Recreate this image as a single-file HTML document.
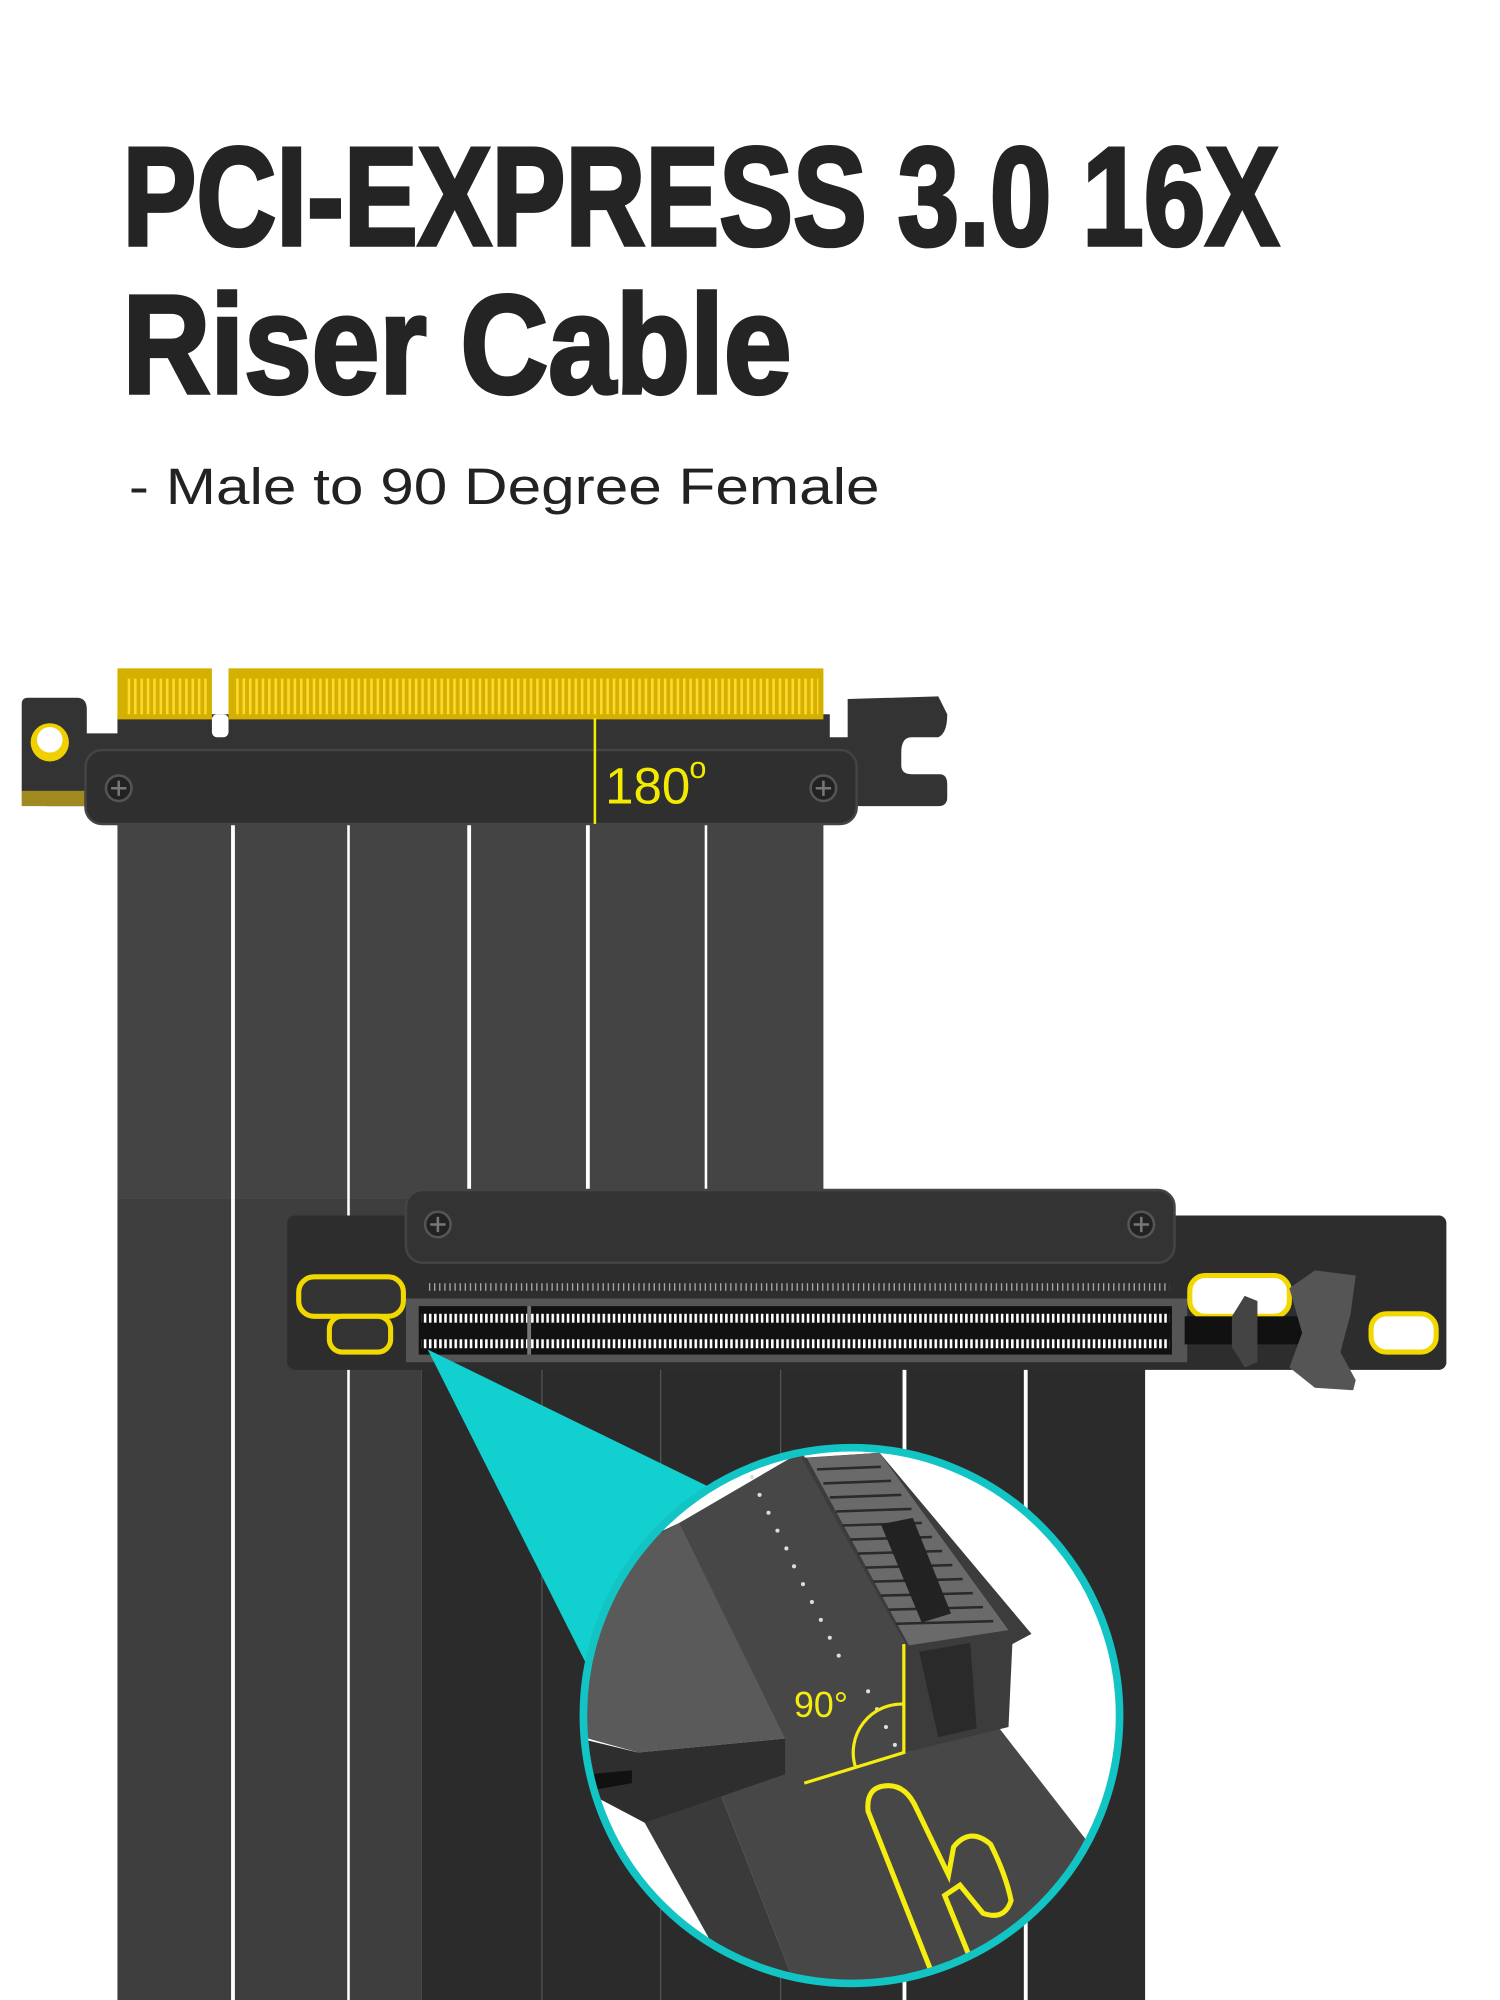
<!DOCTYPE html>
<html><head><meta charset="utf-8"><style>
html,body{margin:0;padding:0;background:#fff;}
svg{display:block;}
</style></head><body>
<svg width="1500" height="2000" viewBox="0 0 1175 1568" preserveAspectRatio="none" xmlns="http://www.w3.org/2000/svg">
<defs>
<pattern id="fing" width="5" height="28" patternUnits="userSpaceOnUse"><rect width="2" height="28" fill="#ffd930"/></pattern>
<pattern id="pins" width="4" height="6" patternUnits="userSpaceOnUse"><rect width="1" height="6" fill="#aaa"/></pattern>
<pattern id="pins2" width="4" height="8" patternUnits="userSpaceOnUse"><rect width="2" height="8" fill="#fff"/></pattern>
<clipPath id="cc"><circle cx="667" cy="1345" r="210"/></clipPath>
</defs>
<rect width="1175" height="1568" fill="#fff"/>
<!-- Title -->
<g font-family="'Liberation Sans Narrow','Liberation Sans',sans-serif" font-weight="bold" fill="#242424" stroke="#242424" stroke-width="3">
<text x="96" y="192" font-size="110" textLength="906" lengthAdjust="spacingAndGlyphs">PCI-EXPRESS 3.0 16X</text>
<text x="96" y="308" font-size="110" textLength="524" lengthAdjust="spacingAndGlyphs">Riser Cable</text>
</g>
<text x="101" y="395" font-family="'Liberation Sans',sans-serif" font-size="40" fill="#222" textLength="588" lengthAdjust="spacingAndGlyphs">- Male to 90 Degree Female</text>

<!-- Upper cable strips -->
<rect x="92" y="640" width="553" height="300" fill="#444"/>
<rect x="92" y="940" width="238" height="628" fill="#3e3e3e"/>
<g fill="#fff">
<rect x="181" y="646" width="3" height="922"/>
<rect x="272" y="646" width="2" height="922"/>
<rect x="366" y="646" width="3" height="290"/>
<rect x="459" y="646" width="3" height="290"/>
<rect x="552" y="646" width="2" height="290"/>
</g>

<!-- Top connector -->
<path d="M17 552 Q17 547 22 547 L60 547 Q68 547 68 556 L68 575 L92 575 L92 560 L650 560 L650 578 L664 578 L664 548 L735 546 L742 560 Q742 575 735 578 L714 578 Q706 578 706 590 L706 600 Q706 607 714 607 L736 607 Q742 607 742 615 L742 625 Q742 632 735 632 L40 632 Q17 632 17 620 Z" fill="#333"/>
<rect x="17" y="620" width="55" height="12" fill="#a08a20"/>
<circle cx="39" cy="582" r="15" fill="#f0d000"/>
<circle cx="39" cy="580" r="10" fill="#fff"/>
<rect x="92" y="524" width="74" height="40" fill="#d4b000"/>
<rect x="179" y="524" width="466" height="40" fill="#d4b000"/>
<rect x="166" y="560" width="13" height="18" rx="4" fill="#fff"/>
<rect x="98" y="532" width="64" height="28" fill="url(#fing)"/>
<rect x="183" y="532" width="458" height="28" fill="url(#fing)"/>
<rect x="67" y="588" width="604" height="58" rx="13" fill="#2f2f2f" stroke="#444" stroke-width="2"/>
<circle cx="93" cy="618" r="10" fill="#222" stroke="#555" stroke-width="2"/>
<path d="M93 612 V624 M87 618 H99" stroke="#777" stroke-width="2"/>
<circle cx="645" cy="618" r="10" fill="#222" stroke="#555" stroke-width="2"/>
<path d="M645 612 V624 M639 618 H651" stroke="#777" stroke-width="2"/>
<rect x="465" y="563" width="2" height="83" fill="#f2ea00"/>
<text x="474" y="630" font-family="'Liberation Sans',sans-serif" font-size="40" fill="#f2ea00">180</text>
<text x="540" y="610" font-family="'Liberation Sans',sans-serif" font-size="24" fill="#f2ea00">o</text>

<!-- Lower cable -->
<rect x="330" y="1070" width="567" height="498" fill="#2b2b2b"/>
<rect x="424" y="1070" width="1" height="498" fill="#555"/>
<rect x="517" y="1070" width="1" height="498" fill="#555"/>
<rect x="611" y="1070" width="1" height="498" fill="#555"/>
<rect x="707" y="1070" width="3" height="498" fill="#fff"/>
<rect x="802" y="1070" width="3" height="498" fill="#fff"/>

<!-- Lower connector -->
<rect x="225" y="953" width="908" height="121" rx="6" fill="#2d2d2d"/>
<rect x="318" y="933" width="602" height="57" rx="13" fill="#333" stroke="#444" stroke-width="2"/>
<circle cx="343" cy="960" r="10" fill="#222" stroke="#555" stroke-width="2"/>
<path d="M343 954 V966 M337 960 H349" stroke="#777" stroke-width="2"/>
<circle cx="894" cy="960" r="10" fill="#222" stroke="#555" stroke-width="2"/>
<path d="M894 954 V966 M888 960 H900" stroke="#777" stroke-width="2"/>
<rect x="336" y="1006" width="580" height="6" fill="url(#pins)"/>
<rect x="318" y="1018" width="612" height="50" fill="#555"/>
<rect x="328" y="1024" width="590" height="38" fill="#111"/>
<rect x="330" y="1030" width="586" height="7" fill="url(#pins2)"/>
<rect x="330" y="1050" width="586" height="7" fill="url(#pins2)"/>
<rect x="413" y="1024" width="3" height="38" fill="#777"/>
<rect x="234" y="1001" width="82" height="31" rx="12" fill="#333" stroke="#f0d800" stroke-width="4"/>
<rect x="258" y="1032" width="48" height="28" rx="10" fill="#333" stroke="#f0d800" stroke-width="4"/>
<rect x="932" y="1000" width="78" height="32" rx="12" fill="#fff" stroke="#f0d800" stroke-width="4"/>
<rect x="1074" y="1030" width="51" height="30" rx="12" fill="#fff" stroke="#f0d800" stroke-width="4"/>
<rect x="928" y="1032" width="100" height="22" fill="#111"/>
<path d="M965 1032 L975 1016 L985 1020 L985 1068 L975 1072 L965 1056 Z" fill="#444"/>
<path d="M1010 1010 L1030 996 L1062 1000 L1058 1030 L1050 1060 L1062 1082 L1060 1090 L1030 1088 L1010 1072 L1020 1045 Z" fill="#555"/>

<!-- Cyan wedge -->
<path d="M335 1058 L560 1168 L462 1310 Z" fill="#12d0d0"/>

<!-- Magnifier -->
<circle cx="667" cy="1345" r="210" fill="#fff"/>
<g clip-path="url(#cc)">
<path d="M455 1230 L532 1194 L628 1138 L709 1289 L709 1374 L782 1354 L880 1480 L880 1600 L640 1600 L556 1385 L615 1363 Z" fill="#474747"/>
<path d="M505 1429 L556 1385 L640 1600 L600 1600 Z" fill="#3a3a3a"/>
<path d="M532 1194 L615 1363 L500 1374 L450 1360 L450 1240 Z" fill="#5a5a5a"/>
<path d="M450 1362 L500 1374 L615 1363 L615 1391 L505 1429 L450 1400 Z" fill="#2e2e2e"/>
<path d="M450 1392 L495 1388 L495 1398 L450 1406 Z" fill="#111"/>
<path d="M628 1143 L689 1139 L808 1281 L793 1289 L790 1354 L709 1374 L709 1289 Z" fill="#3c3c3c"/>
<path d="M632 1143 L689 1139 L790 1278 L712 1290 Z" fill="#6a6a6a"/>
<g stroke="#2a2a2a" stroke-width="2">
<path d="M640 1152 L690 1150 M645 1163 L698 1161 M650 1174 L706 1172 M655 1185 L714 1183 M660 1196 L722 1194 M666 1207 L730 1205 M672 1218 L738 1216 M678 1229 L746 1227 M684 1240 L754 1238 M690 1251 L762 1249 M696 1262 L770 1260 M702 1273 L778 1271"/>
</g>
<path d="M690 1195 L715 1190 L745 1265 L722 1272 Z" fill="#222"/>
<path d="M720 1295 L760 1288 L765 1355 L735 1362 Z" fill="#2a2a2a"/>
<g fill="#ddd">
<circle cx="589" cy="1158" r="1.6"/><circle cx="595" cy="1172" r="1.6"/><circle cx="602" cy="1186" r="1.6"/><circle cx="609" cy="1200" r="1.6"/><circle cx="616" cy="1214" r="1.6"/><circle cx="622" cy="1228" r="1.6"/><circle cx="629" cy="1242" r="1.6"/><circle cx="636" cy="1256" r="1.6"/><circle cx="643" cy="1270" r="1.6"/><circle cx="650" cy="1284" r="1.6"/><circle cx="657" cy="1298" r="1.6"/><circle cx="680" cy="1326" r="1.6"/><circle cx="687" cy="1340" r="1.6"/><circle cx="694" cy="1354" r="1.6"/><circle cx="701" cy="1368" r="1.6"/>
</g>
<g stroke="#f5ec10" stroke-width="2.5" fill="none">
<path d="M708 1289 V1374 L630 1398"/>
<path d="M708 1336 A38 38 0 0 0 670 1385"/>
<path d="M732 1552 L680 1420 Q678 1400 696 1400 Q710 1400 718 1418 L743 1470 L747 1448 Q760 1432 776 1446 Q788 1470 792 1490 Q787 1506 770 1500 L752 1478 L740 1486 L770 1560" stroke-width="4"/>
</g>
<text x="622" y="1346" font-family="'Liberation Sans',sans-serif" font-size="28" fill="#f5ec10">90°</text>
</g>
<circle cx="667" cy="1345" r="210" fill="none" stroke="#12c4c4" stroke-width="6"/>
</svg>
</body></html>
